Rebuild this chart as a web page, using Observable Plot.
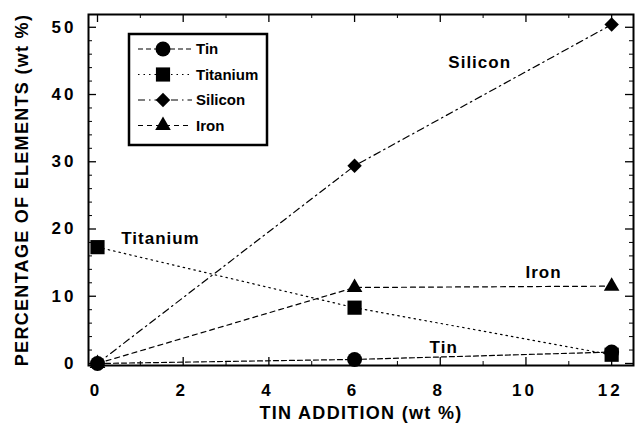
<!DOCTYPE html>
<html>
<head>
<meta charset="utf-8">
<script src="https://cdn.jsdelivr.net/npm/d3@7"></script>
<script src="https://cdn.jsdelivr.net/npm/@observablehq/plot@0.6"></script>
<style>
  html, body { margin: 0; padding: 0; background: #fff; }
  #chart { position: relative; width: 638px; height: 425px; }
</style>
</head>
<body>
<div id="chart"></div>
<script>
// ---- data ----
const additions = [0, 6, 12];
const tin = [0, 0.6, 1.7];
const titanium = [17.3, 8.3, 1.3];
const silicon = [0, 29.4, 50.4];
const iron = [0, 11.3, 11.5];

const seriesNames = ["Tin", "Titanium", "Silicon", "Iron"];
const xTicks = [0, 2, 4, 6, 8, 10, 12];
const xMinorTicks = [1, 3, 5, 7, 9, 11];
const yTicks = [0, 10, 20, 30, 40, 50];
const yMinorTicks = [2, 4, 6, 8, 12, 14, 16, 18, 22, 24, 26, 28, 32, 34, 36, 38, 42, 44, 46, 48];

const labelText = ["Silicon", "Titanium", "Iron", "Tin"];
const labelX = [8.92, 1.47, 10.41, 8.08];
const labelY = [44.8, 18.6, 13.5, 2.4];

const xTitle = "TIN ADDITION (wt %)";
const yTitle = "PERCENTAGE OF ELEMENTS (wt %)";

// ---- build ----
const values = {Tin: tin, Titanium: titanium, Silicon: silicon, Iron: iron};
const rows = name => additions.map((x, i) => ({x, y: values[name][i]}));
const styleOf = {
  Tin:      {dash: "5,3",        symbol: "circle",   r: 7.5},
  Titanium: {dash: "1.5,4",      symbol: "square",   r: 8},
  Silicon:  {dash: "7,4,1.5,4",  symbol: "diamond2", r: 6.5},
  Iron:     {dash: "5,4",        symbol: "triangle", r: 5.8}
};
const labels = labelText.map((t, i) => ({t, x: labelX[i], y: labelY[i]}));

const W = 638, H = 425, mT = 14, mB = 60, mL = 88, mR = 5;
const innerH = H - mT - mB;
const innerW = W - mL - mR;

const marks = [];
// inward ticks on all four sides
marks.push(Plot.ruleX(xTicks, {x: d => d, insetTop: innerH - 8, strokeWidth: 1.3}));
marks.push(Plot.ruleX(xTicks, {x: d => d, insetBottom: innerH - 8, strokeWidth: 1.3}));
marks.push(Plot.ruleX(xMinorTicks, {x: d => d, insetTop: innerH - 4, strokeWidth: 1}));
marks.push(Plot.ruleX(xMinorTicks, {x: d => d, insetBottom: innerH - 4, strokeWidth: 1}));
marks.push(Plot.ruleY(yTicks, {y: d => d, insetRight: innerW - 8, strokeWidth: 1.3}));
marks.push(Plot.ruleY(yTicks, {y: d => d, insetLeft: innerW - 8, strokeWidth: 1.3}));
marks.push(Plot.ruleY(yMinorTicks, {y: d => d, insetRight: innerW - 4, strokeWidth: 1}));
marks.push(Plot.ruleY(yMinorTicks, {y: d => d, insetLeft: innerW - 4, strokeWidth: 1}));

// series lines
for (const name of ["Iron", "Silicon", "Titanium", "Tin"]) {
  marks.push(Plot.line(rows(name), {x: "x", y: "y", stroke: "#000", strokeWidth: 1.2, strokeDasharray: styleOf[name].dash}));
}
// markers
for (const name of ["Iron", "Silicon", "Titanium", "Tin"]) {
  marks.push(Plot.dot(rows(name), {x: "x", y: "y", symbol: () => styleOf[name].symbol, r: styleOf[name].r, fill: "#000", stroke: "none"}));
}
// annotations
marks.push(Plot.text(labels, {x: "x", y: "y", text: "t", fontSize: 17, fontWeight: "bold", fill: "#000", className: "annot"}));

marks.push(Plot.axisX({ticks: xTicks, tickSize: 0, tickPadding: 18, tickFormat: d => String(d), fontSize: 17, fontWeight: "bold", label: null, dx: -1.5}));
marks.push(Plot.axisY({ticks: yTicks, tickSize: 0, tickPadding: 12, tickFormat: d => String(d), fontSize: 17, fontWeight: "bold", label: null}));
marks.push(Plot.frame({stroke: "#000", strokeWidth: 2}));
marks.push(Plot.text([xTitle], {frameAnchor: "bottom", dy: 53, textAnchor: "middle", fontSize: 18, fontWeight: "bold", fill: "#000", className: "xtitle"}));
marks.push(Plot.text([yTitle], {frameAnchor: "left", rotate: -90, dx: -66, textAnchor: "middle", fontSize: 18, fontWeight: "bold", fill: "#000", className: "ytitle"}));

const chart = Plot.plot({
  width: W, height: H,
  marginTop: mT, marginBottom: mB, marginLeft: mL, marginRight: mR,
  x: {domain: [-0.21, 12.51]},
  y: {domain: [-0.3, 51.9]},
  style: {fontFamily: "Liberation Sans, Arial, sans-serif", background: "#fff", color: "#000", overflow: "visible"},
  marks
});
document.getElementById("chart").appendChild(chart);

const svg = d3.select(chart);
svg.selectAll("[aria-label='x-axis tick label'] text, [aria-label='y-axis tick label'] text").style("letter-spacing", "3px");
svg.selectAll(".annot text").style("letter-spacing", "1px");
svg.selectAll(".xtitle text, .ytitle text").style("letter-spacing", "1.3px");

// legend
const lg = svg.append("g").attr("class", "legend").attr("text-anchor", "start");
lg.append("rect").attr("x", 129).attr("y", 34).attr("width", 138).attr("height", 111)
  .attr("fill", "#fff").attr("stroke", "#000").attr("stroke-width", 2.5);
const symMap = {circle: d3.symbolCircle, square: d3.symbolSquare, diamond2: d3.symbolDiamond2, triangle: d3.symbolTriangle};
seriesNames.forEach((name, i) => {
  const cy = 49 + i * 25.5;
  const s = styleOf[name];
  lg.append("line").attr("x1", 138).attr("x2", 192).attr("y1", cy).attr("y2", cy)
    .attr("stroke", "#000").attr("stroke-width", 1.2).attr("stroke-dasharray", s.dash);
  lg.append("path").attr("transform", `translate(163,${cy})`)
    .attr("d", d3.symbol(symMap[s.symbol], Math.PI * s.r * s.r)()).attr("fill", "#000");
  lg.append("text").attr("x", 196).attr("y", cy).attr("dy", "0.35em").attr("text-anchor", "start")
    .attr("font-size", 15).attr("font-weight", "bold").attr("fill", "#000").text(name);
});
</script>
</body>
</html>
